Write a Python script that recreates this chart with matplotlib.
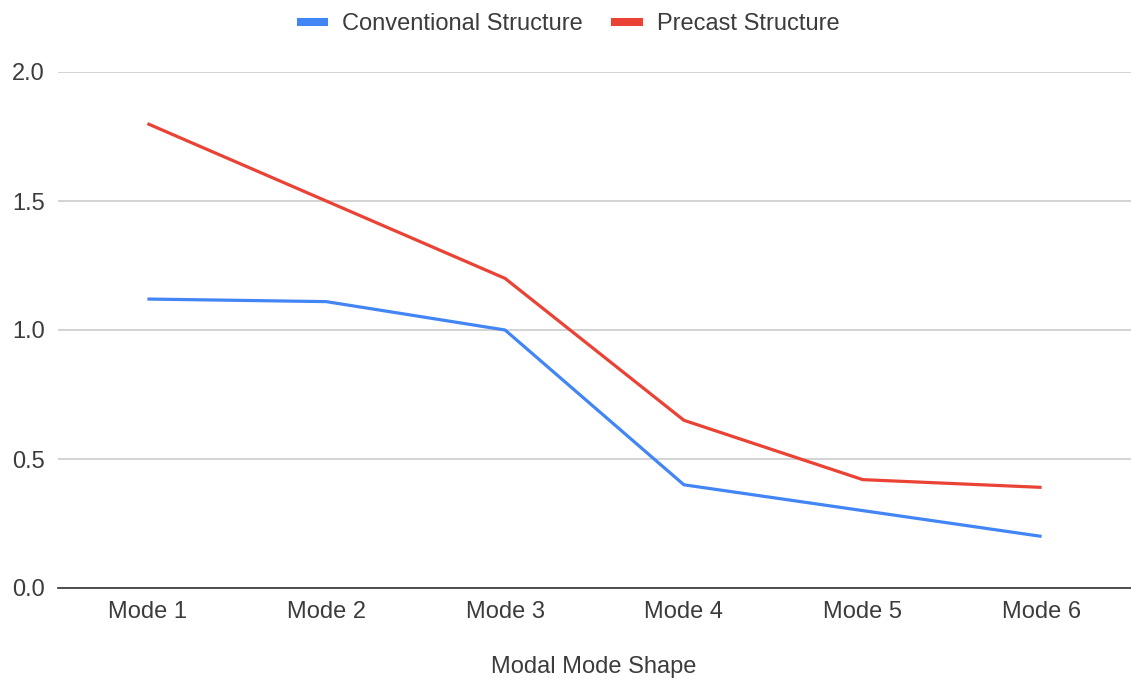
import matplotlib.pyplot as plt
from matplotlib.lines import Line2D

modes = ['Mode 1', 'Mode 2', 'Mode 3', 'Mode 4', 'Mode 5', 'Mode 6']
conventional = [1.12, 1.11, 1.00, 0.40, 0.30, 0.20]
precast = [1.80, 1.50, 1.20, 0.65, 0.42, 0.39]
y_ticks = [0.0, 0.5, 1.0, 1.5, 2.0]

plt.rcParams['font.family'] = ['Liberation Sans', 'DejaVu Sans']
FS = 17

fig = plt.figure(figsize=(11.31, 6.79), dpi=100)
ax = fig.add_axes([58 / 1131, 1 - 588 / 679, 1 - 58 / 1131, (588 - 72) / 679])

x = range(len(modes))
ax.plot(x, conventional, color='#4285F4', lw=2.3, solid_capstyle='butt', zorder=3)
ax.plot(x, precast, color='#EA4335', lw=2.3, solid_capstyle='butt', zorder=3)

ax.set_xlim(-0.5, len(modes) - 0.5)
ax.set_ylim(0, 2.0)
ax.set_xticks(list(x))
ax.set_xticklabels(modes)
ax.set_yticks(y_ticks)
ax.set_yticklabels([f'{v:.1f}' for v in y_ticks])
ax.tick_params(axis='both', length=0, labelsize=FS, labelcolor='#3c3c3c')
ax.tick_params(axis='x', pad=9)
ax.tick_params(axis='y', pad=33)
for lbl in ax.get_yticklabels():
    lbl.set_horizontalalignment('left')

ax.grid(axis='y', color='#cccccc', lw=1.2)
ax.set_axisbelow(True)
for s in ['top', 'right', 'left']:
    ax.spines[s].set_visible(False)
ax.spines['bottom'].set_color('#333333')
ax.spines['bottom'].set_linewidth(1.2)
ax.spines['bottom'].set_zorder(4)

handles = [Line2D([], [], color='#4285F4', lw=5.8),
           Line2D([], [], color='#EA4335', lw=5.8)]
fig.legend(handles, ['Conventional Structure', 'Precast Structure'],
           loc='center', bbox_to_anchor=(570 / 1131, 1 - 24 / 679), ncol=2,
           frameon=False, fontsize=FS, handlelength=1.0, handletextpad=0.76,
           columnspacing=1.35, labelcolor='#3c3c3c')

# axis title sits at the very bottom edge, as in the reference
fig.text(594 / 1131, 1 - 656 / 679, 'Modal Mode Shape', ha='center', va='top',
         fontsize=FS, color='#3c3c3c')

fig.savefig('out.png', dpi=100)
